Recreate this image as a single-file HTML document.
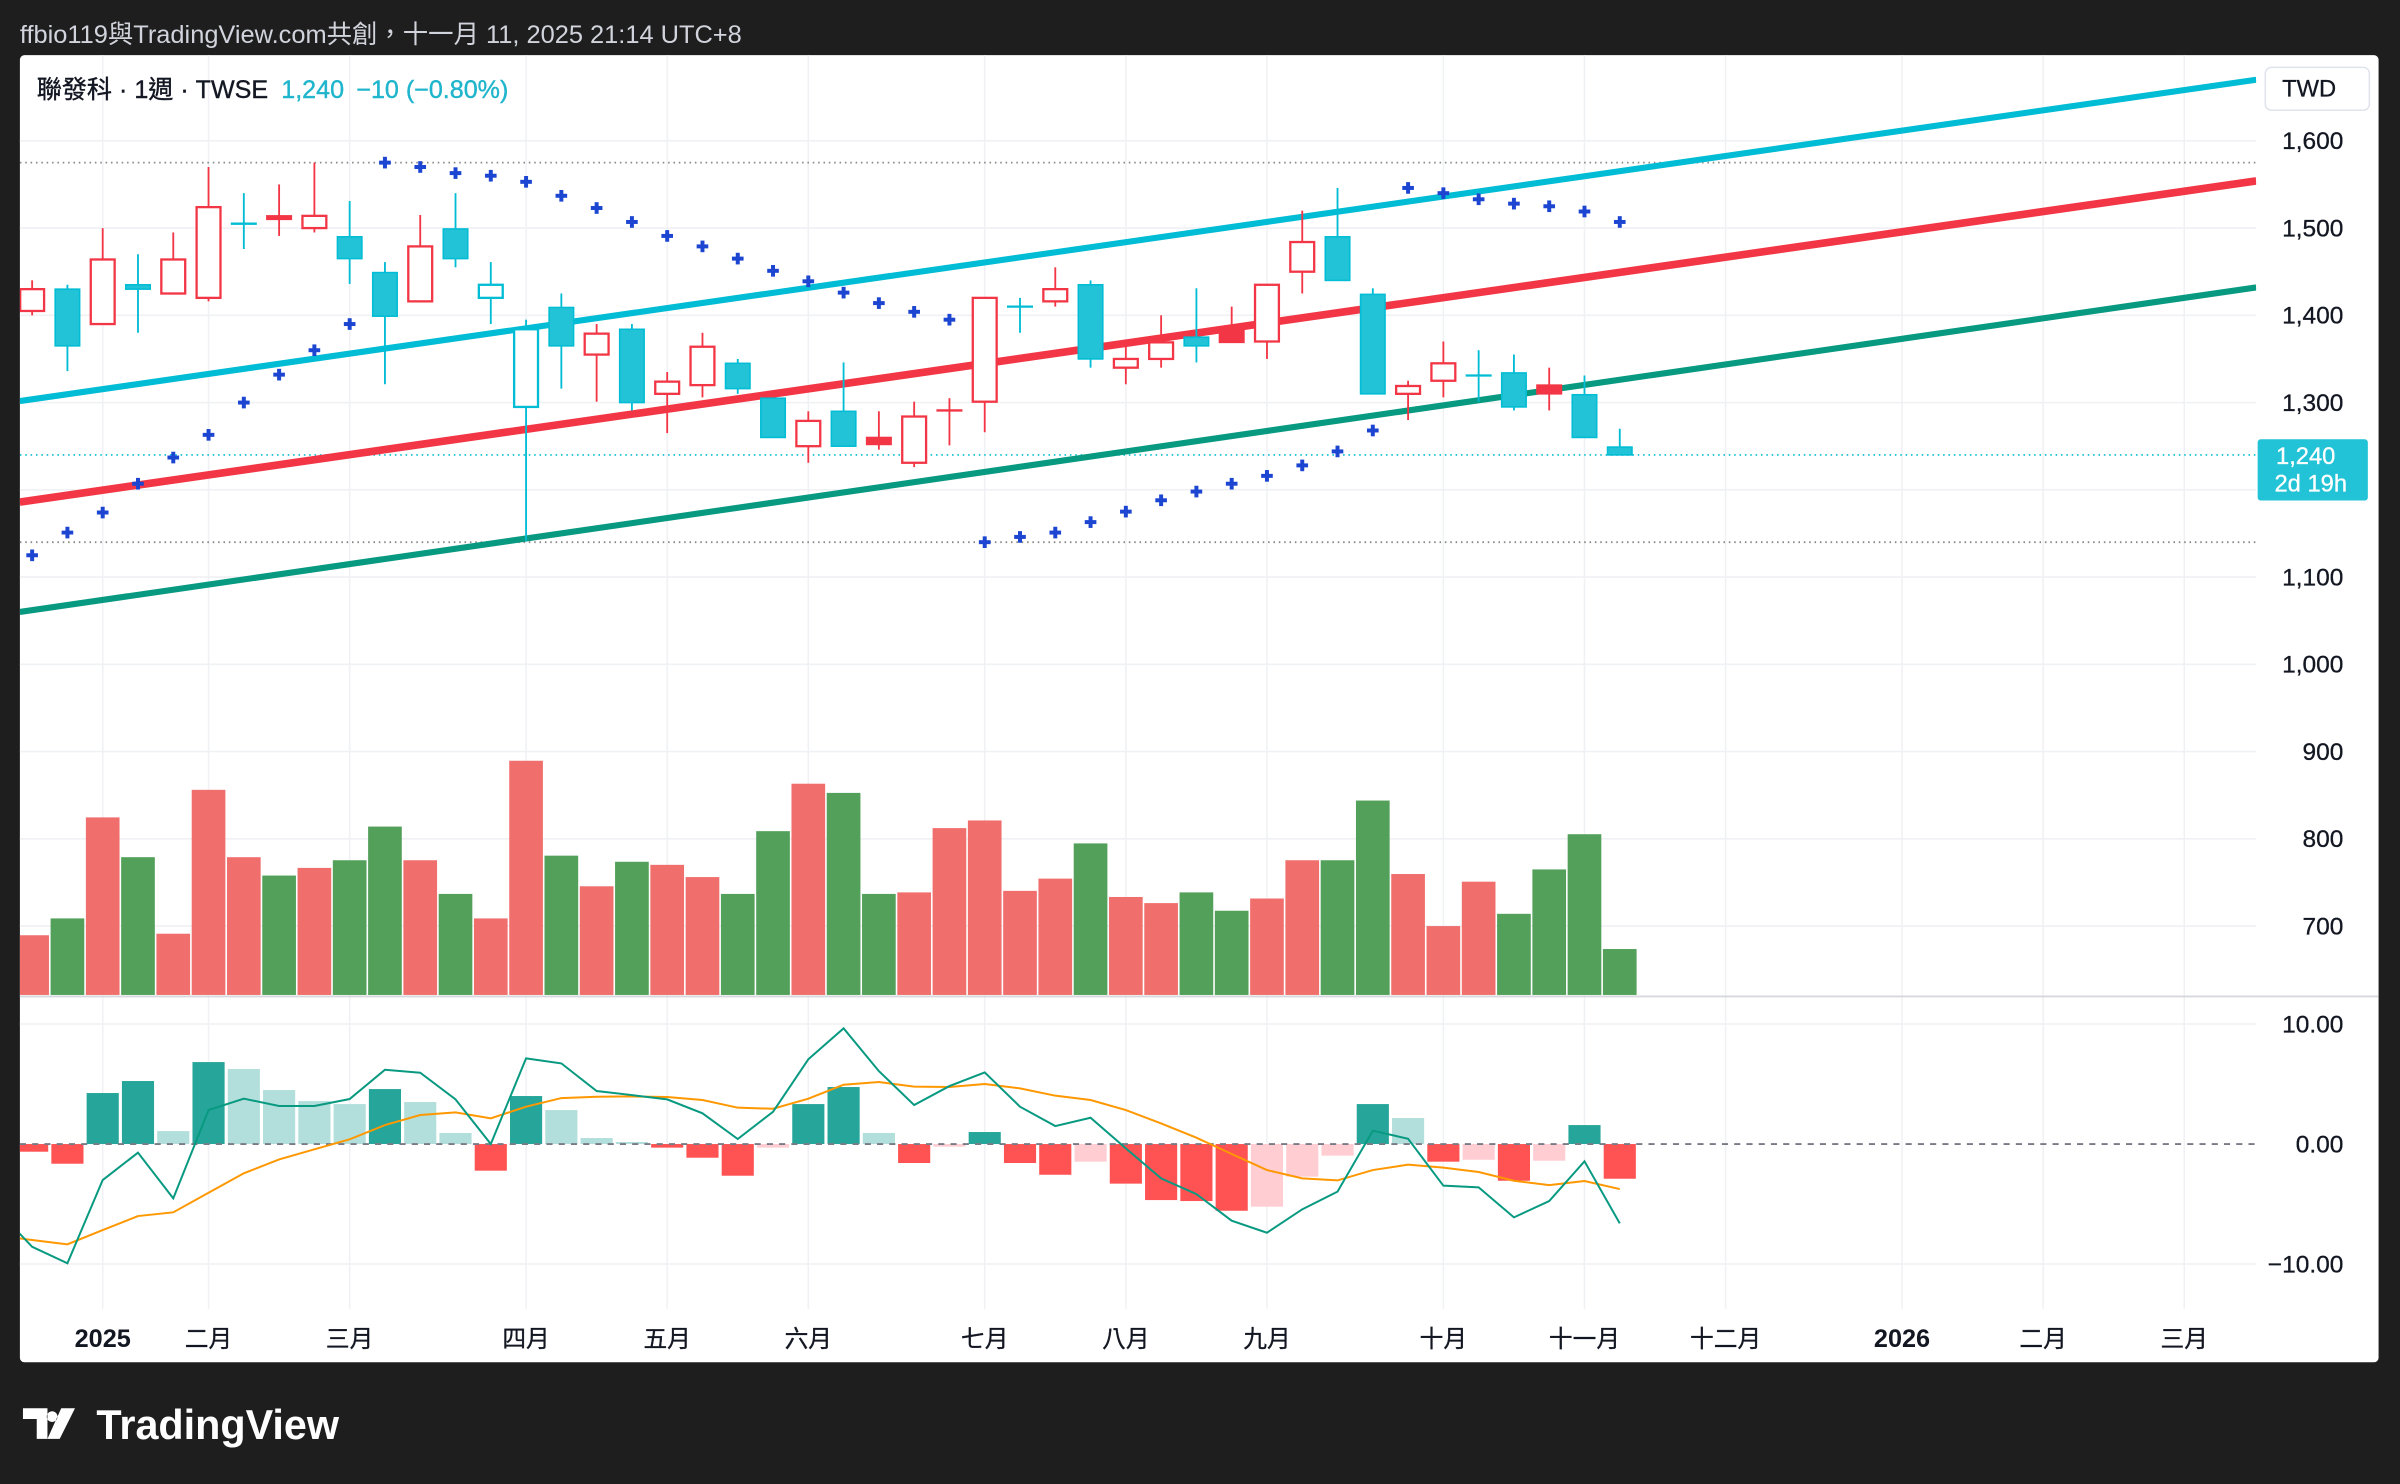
<!DOCTYPE html>
<html><head><meta charset="utf-8"><style>
html,body{margin:0;padding:0;background:#1e1e1e;}
svg{display:block;font-family:"Liberation Sans","Noto Sans CJK TC",sans-serif;}
</style></head><body>
<svg id="c" width="2400" height="1484" viewBox="0 0 1568 969.5" preserveAspectRatio="none" xmlns="http://www.w3.org/2000/svg">
<rect x="0" y="0" width="1568" height="970" fill="#1e1e1e"/>
<text x="13" y="28" font-size="16.6" fill="#d1d4dc">ffbio119與TradingView.com共創，十一月 11, 2025 21:14 UTC+8</text>
<rect x="13" y="36" width="1541" height="854" rx="3" fill="#ffffff"/>
<g id="grid"></g>
<g id="vol"></g>
<g id="lines"></g>
<g id="candles"></g>
<g id="sar"></g>
<g id="macd"></g>
<g id="axes"></g>
<text x="24" y="64" font-size="16.4" fill="#131722" stroke="#131722" stroke-width="0.25">聯發科 · 1週 · TWSE <tspan fill="#1fb5cc" stroke="#1fb5cc" dx="4">1,240</tspan><tspan fill="#1fb5cc" stroke="#1fb5cc" dx="8">−10 (−0.80%)</tspan></text>
<rect x="1480" y="44" width="68" height="28" rx="4" fill="#fff" stroke="#e0e3eb"/>
<text x="1491" y="63" font-size="15.5" fill="#131722" stroke="#131722" stroke-width="0.2">TWD</text>
<rect x="1475" y="287" width="72" height="40" rx="2" fill="#22c3d6"/>
<text x="1487" y="303" font-size="15.5" fill="#fff" stroke="#fff" stroke-width="0.2">1,240</text>
<text x="1486" y="321" font-size="15.5" fill="#fff" stroke="#fff" stroke-width="0.2">2d 19h</text>
<g>
<path d="M15 920 h16 v20 h-7 v-13 h-9 z M34 922 a3.5 3.5 0 1 0 0.1 0 z M40 920 h9 l-10 20 h-8 z" fill="#fff"/>
<text x="63" y="940" font-size="27" font-weight="bold" fill="#fff">TradingView</text>
</g>
</svg>
<script>
// ---- data ----
const opens  = [1405,1430,1390,1435,1425,1420,1505,1514,1500,1490,1449,1416,1499,1420,1295,1409,1355,1384,1310,1320,1345,1305,1250,1290,1260,1231,1291,1301,1410,1416,1435,1340,1350,1375,1384,1370,1450,1490,1424,1310,1325,1331,1334,1320,1309,1249];
const highs  = [1440,1435,1500,1470,1495,1570,1540,1550,1575,1531,1461,1515,1540,1461,1395,1425,1390,1390,1335,1380,1350,1305,1290,1346,1290,1301,1305,1420,1420,1455,1440,1366,1400,1431,1410,1435,1520,1546,1431,1325,1370,1360,1355,1340,1331,1270];
const lows   = [1400,1336,1390,1380,1425,1416,1476,1491,1495,1436,1321,1416,1455,1390,1141,1316,1301,1291,1265,1306,1310,1260,1231,1250,1246,1226,1251,1266,1380,1410,1340,1321,1340,1346,1369,1350,1425,1440,1310,1280,1306,1301,1291,1291,1260,1240];
const closes = [1430,1365,1464,1430,1464,1524,1505,1510,1514,1465,1399,1479,1465,1435,1384,1365,1379,1300,1324,1364,1316,1260,1279,1250,1252,1284,1291,1420,1410,1430,1350,1350,1369,1365,1369,1435,1484,1440,1310,1319,1345,1331,1295,1310,1260,1240];
const volumes = [39,50,116,90,40,134,90,78,83,88,110,88,66,50,153,91,71,87,85,77,66,107,138,132,66,67,109,114,68,76,99,64,60,67,55,63,88,88,127,79,45,74,53,82,105,30];
const sarValues = [1125,1151,1174,1207,1237,1263,1300,1332,1360,1390,1575,1570,1563,1560,1553,1537,1523,1507,1491,1479,1465,1451,1439,1426,1414,1404,1395,1140,1146,1151,1163,1175,1188,1198,1207,1216,1228,1244,1268,1546,1540,1533,1528,1525,1519,1507];
const macdHist = [-0.64,-1.64,4.25,5.25,1.08,6.83,6.25,4.5,3.58,3.33,4.58,3.5,0.92,-2.22,4.0,2.83,0.5,0.17,-0.3,-1.14,-2.64,-0.3,3.33,4.75,0.92,-1.58,-0.22,1.0,-1.58,-2.56,-1.47,-3.3,-4.67,-4.75,-5.56,-5.22,-2.72,-0.97,3.33,2.17,-1.47,-1.31,-3.06,-1.39,1.58,-2.89];
const macdLine = [-8.56,-9.94,-3.0,-0.72,-4.53,2.83,3.78,3.17,3.17,3.75,6.19,5.94,3.72,0,7.14,6.72,4.42,4.08,3.72,2.56,0.42,2.69,7.06,9.64,6.08,3.25,4.83,5.97,3.11,1.5,2.19,-0.36,-2.86,-4.17,-6.39,-7.39,-5.44,-3.97,1.11,0.44,-3.47,-3.61,-6.11,-4.75,-1.44,-6.61];
const signalLine = [-8.0,-8.36,-7.17,-6.0,-5.69,-4.06,-2.44,-1.28,-0.44,0.39,1.58,2.42,2.64,2.14,3.11,3.83,3.94,3.97,3.92,3.67,3.03,2.94,3.78,4.94,5.17,4.78,4.75,5.0,4.64,4.03,3.67,2.83,1.72,0.53,-0.83,-2.17,-2.86,-3.03,-2.17,-1.72,-1.97,-2.33,-3.06,-3.42,-3.08,-3.75];
const macdPrev = -5.47, signalPrev = -7.6;
const trendStartIdx = -0.35, trendEndIdx = 63.04;
const trendCyan = [1301.75,1670];
const trendRed = [1186,1554];
const trendGreen = [1060,1432];
const priceTicks = [1600,1500,1400,1300,1200,1100,1000,900,800,700];
const priceTickLabels = ["1,600","1,500","1,400","1,300","","1,100","1,000","900","800","700"];
const macdTicks = [10,0,-10];
const macdTickLabels = ["10.00","0.00","−10.00"];
const monthIdx = [2,5,9,14,18,22,27,31,35,40,44,48,53,57,61];
const monthLabels = ["2025","二月","三月","四月","五月","六月","七月","八月","九月","十月","十一月","十二月","2026","二月","三月"];
const monthBold = [true,false,false,false,false,false,false,false,false,false,false,false,true,false,false];
const refHigh = 1575, refLow = 1140, lastPrice = 1240;

// ---- scales ----
const X0=13, X1=1474;
const x = i => 21 + 23.05*i;
const y = p => 92 + (1600-p)*0.57;
const yv = v => 650 - v;
const ym = v => 747.4 - v*7.84;
const NS="http://www.w3.org/2000/svg";
function mk(parent, tag, attrs){const e=document.createElementNS(NS,tag);for(const k in attrs)e.setAttribute(k,attrs[k]);parent.appendChild(e);return e;}
const G=id=>document.getElementById(id);

const defs=mk(G('c'),'defs',{});
const cp=mk(defs,'clipPath',{id:'plot'});mk(cp,'rect',{x:X0,y:36,width:X1-X0,height:614});
const cp2=mk(defs,'clipPath',{id:'mplot'});mk(cp2,'rect',{x:X0,y:652,width:X1-X0,height:203});
['vol','lines','candles','sar'].forEach(id=>G(id).setAttribute('clip-path','url(#plot)'));
G('macd').setAttribute('clip-path','url(#mplot)');

// grid
const grid=G('grid');
priceTicks.forEach(p=>{const l=mk(grid,'line',{x1:X0,x2:X1,y1:y(p),y2:y(p),stroke:'#f0f1f4','stroke-width':1});

});
macdTicks.filter(v=>v!==0).forEach(v=>{const l=mk(grid,'line',{x1:X0,x2:X1,y1:ym(v),y2:ym(v),stroke:'#f0f1f4','stroke-width':1});

});
monthIdx.forEach(i=>{const l=mk(grid,'line',{x1:x(i),x2:x(i),y1:36,y2:855,stroke:'#f0f1f4','stroke-width':1});

});
const sep=mk(grid,'line',{x1:X0,x2:1554,y1:651,y2:651,stroke:'#d6d8de','stroke-width':1.2});



// volume
volumes.forEach((v,i)=>{const up=closes[i]>=opens[i];
const r=mk(G('vol'),'rect',{x:x(i)-11,y:yv(v),width:22,height:v,fill:up?'#f06f6d':'#52a05a'});

});

// ref lines
[[refHigh,'#888','1,2.5'],[refLow,'#888','1,2.5'],[lastPrice,'#22c3d6','1,2.5']].forEach(([p,c,d])=>{
const l=mk(G('lines'),'line',{x1:X0,x2:X1,y1:y(p),y2:y(p),stroke:c,'stroke-width':1.2,'stroke-dasharray':d});

});
[[trendCyan,'#00bcd4',4,'upper-channel-line'],[trendRed,'#f23645',5,'middle-channel-line'],[trendGreen,'#089981',4,'lower-channel-line']].forEach(([t,c,w,n])=>{
const l=mk(G('lines'),'line',{x1:x(trendStartIdx),y1:y(t[0]),x2:x(trendEndIdx),y2:y(t[1]),stroke:c,'stroke-width':w});

});

// candles
opens.forEach((o,i)=>{
const c=closes[i];const up=i===0?true:c>=closes[i-1];const col=up?'#f23645':'#00bcd4';const fillc=up?'#f23645':'#22c3d6';
const g=mk(G('candles'),'g',{});


const top=Math.max(o,c),bot=Math.min(o,c);
mk(g,'line',{x1:x(i),x2:x(i),y1:y(highs[i]),y2:y(top),stroke:col,'stroke-width':1.2});
mk(g,'line',{x1:x(i),x2:x(i),y1:y(bot),y2:y(lows[i]),stroke:col,'stroke-width':1.2});
const h=Math.max(y(bot)-y(top),0);
if(h<1.5){mk(g,'line',{x1:x(i)-8.5,x2:x(i)+8.5,y1:y(c),y2:y(c),stroke:col,'stroke-width':1.5});}
else if(c>o){mk(g,'rect',{x:x(i)-7.8,y:y(top),width:15.6,height:h,fill:'#fff',stroke:col,'stroke-width':1.5});}
else{mk(g,'rect',{x:x(i)-8,y:y(top),width:16,height:h,fill:fillc,stroke:col,'stroke-width':1});}
});

// SAR
sarValues.forEach((p,i)=>{const g=mk(G('sar'),'g',{});


mk(g,'line',{x1:x(i)-3.8,x2:x(i)+3.8,y1:y(p),y2:y(p),stroke:'#1c45d1','stroke-width':2.6});
mk(g,'line',{x1:x(i),x2:x(i),y1:y(p)-3.8,y2:y(p)+3.8,stroke:'#1c45d1','stroke-width':2.6});});

// MACD
const m=G('macd');
macdHist.forEach((v,i)=>{const prev=i===0?0:macdHist[i-1];let col;
if(v>=0)col=v>=prev?'#26a69a':'#b2dfdb';else col=v<prev?'#ff5252':'#ffcdd2';
const r=mk(m,'rect',{x:x(i)-10.5,y:Math.min(ym(v),ym(0)),width:21,height:Math.abs(ym(v)-ym(0)),fill:col});

});
const zl=mk(m,'line',{x1:X0,x2:X1,y1:ym(0),y2:ym(0),stroke:'#787b86','stroke-width':1.2,'stroke-dasharray':'4,4'});


const pts=(arr,prev)=>[x(-1)+','+ym(prev)].concat(arr.map((v,i)=>x(i)+','+ym(v))).join(' ');
const sl=mk(m,'polyline',{points:pts(signalLine,signalPrev),fill:'none',stroke:'#ff9800','stroke-width':1.3});


const ml=mk(m,'polyline',{points:pts(macdLine,macdPrev),fill:'none',stroke:'#089981','stroke-width':1.3});



// axes labels
const ax=G('axes');
priceTicks.forEach((p,k)=>{if(!priceTickLabels[k])return;const t=mk(ax,'text',{x:1531,y:y(p)+5.5,'font-size':16,fill:'#131722',stroke:'#131722','stroke-width':0.2,'text-anchor':'end'});t.textContent=priceTickLabels[k];

});
macdTicks.forEach((v,k)=>{const t=mk(ax,'text',{x:1531,y:ym(v)+5.5,'font-size':16,fill:'#131722',stroke:'#131722','stroke-width':0.2,'text-anchor':'end'});t.textContent=macdTickLabels[k];

});
monthIdx.forEach((i,k)=>{const t=mk(ax,'text',{x:x(i),y:880,'font-size':monthBold[k]?16.5:15.5,fill:'#131722',stroke:'#131722','stroke-width':monthBold[k]?0:0.2,'text-anchor':'middle','font-weight':monthBold[k]?'bold':'normal'});t.textContent=monthLabels[k];

});
</script>
</body></html>
